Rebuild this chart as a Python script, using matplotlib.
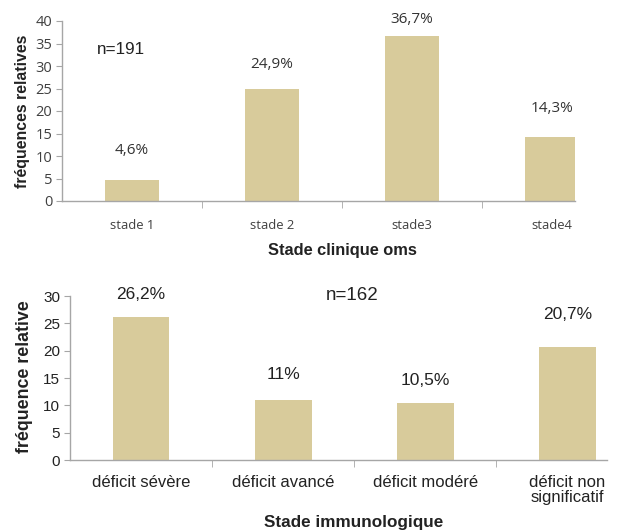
import matplotlib
matplotlib.use("Agg")
import matplotlib.pyplot as plt

# Clinical stage (WHO) distribution
stades = ["stade 1", "stade 2", "stade3", "stade4"]
freq_stades = [4.6, 24.9, 36.7, 14.3]
labels_stades = ["4,6%", "24,9%", "36,7%", "14,3%"]
n_stades = "n=191"

# Immunological stage distribution
deficits = ["déficit sévère", "déficit avancé", "déficit modéré", "déficit non\nsignificatif"]
freq_deficits = [26.2, 11.0, 10.5, 20.7]
labels_deficits = ["26,2%", "11%", "10,5%", "20,7%"]
n_deficits = "n=162"

W, H = 617, 531
BAR = "#d8cb9b"
AXIS = "#a6a6a6"

fig = plt.figure(figsize=(W / 100, H / 100), dpi=100)
fig.patch.set_facecolor("white")


def px_axes(l, r, t, b):
    return fig.add_axes([l / W, 1 - b / H, (r - l) / W, (b - t) / H])


def style(ax):
    for s in ("top", "right"):
        ax.spines[s].set_visible(False)
    for s in ("left", "bottom"):
        ax.spines[s].set_color(AXIS)
        ax.spines[s].set_linewidth(1.0)
    ax.tick_params(axis="y", direction="out", length=4, color=AXIS, pad=3)
    ax.tick_params(axis="x", which="major", length=0)
    ax.tick_params(axis="x", which="minor", direction="out", length=5, color=AXIS)


# ---- top panel ----
ax1 = px_axes(62, 575, 21, 201)
x1 = list(range(len(stades)))
ax1.bar(x1, freq_stades, width=0.39, color=BAR, zorder=2)
ax1.set_xlim(-0.5, 3.164)
ax1.set_ylim(0, 40)
ax1.set_yticks(range(0, 41, 5))
ax1.set_xticks(x1)
ax1.set_xticks([0.5, 1.5, 2.5], minor=True)
style(ax1)
ax1.set_xticklabels(stades, fontsize=9.4, family="Open Sans", color="#404040")
ax1.tick_params(axis="x", pad=13)
for lab in ax1.get_yticklabels():
    lab.set_fontsize(10.5)
    lab.set_family("Open Sans")
    lab.set_color("#404040")
off1 = [30, 24, 16, 28]
for xi, v, t, o in zip(x1, freq_stades, labels_stades, off1):
    ax1.annotate(t, (xi, v), xytext=(0, o * 0.72), textcoords="offset points",
                 ha="center", va="center", fontsize=11, family="Open Sans", color="#333333")
fig.text(121 / W, 1 - 50 / H, n_stades, ha="center", va="center",
         fontsize=12.3, family="Liberation Sans", color="#222222")
fig.text(23 / W, 1 - 111 / H, "fréquences relatives", rotation=90, ha="center", va="center",
         fontsize=11.4, fontweight="bold", family="Liberation Sans", color="#222222")
fig.text(342 / W, 1 - 250 / H, "Stade clinique oms", ha="center", va="center",
         fontsize=11.8, fontweight="bold", family="Liberation Sans", color="#222222")

# ---- bottom panel ----
ax2 = px_axes(70, 607, 296, 460)
x2 = list(range(len(deficits)))
ax2.bar(x2, freq_deficits, width=0.40, color=BAR, zorder=2)
ax2.set_xlim(-0.5, 3.28)
ax2.set_ylim(0, 30)
ax2.set_yticks(range(0, 31, 5))
ax2.set_xticks(x2)
ax2.set_xticks([0.5, 1.5, 2.5], minor=True)
style(ax2)
ax2.set_xticklabels(deficits, fontsize=12, family="Liberation Sans", color="#222222",
                    linespacing=1.0)
ax2.tick_params(axis="x", pad=11)
for lab in ax2.get_yticklabels():
    lab.set_fontsize(11)
    lab.set_family("Liberation Sans")
    lab.set_color("#222222")
off2 = [22, 25, 22, 32]
for xi, v, t, o in zip(x2, freq_deficits, labels_deficits, off2):
    ax2.annotate(t, (xi, v), xytext=(0, o * 0.72), textcoords="offset points",
                 ha="center", va="center", fontsize=12.5, family="Liberation Sans", color="#222222")
fig.text(352 / W, 1 - 295 / H, n_deficits, ha="center", va="center",
         fontsize=13.5, family="Liberation Sans", color="#222222")
fig.text(25 / W, 1 - 377 / H, "fréquence relative", rotation=90, ha="center", va="center",
         fontsize=12.8, fontweight="bold", family="Liberation Sans", color="#222222")
fig.text(354 / W, 1 - 522 / H, "Stade immunologique", ha="center", va="center",
         fontsize=12.3, fontweight="bold", family="Liberation Sans", color="#222222")

fig.savefig("out.png", dpi=100, facecolor="white")
